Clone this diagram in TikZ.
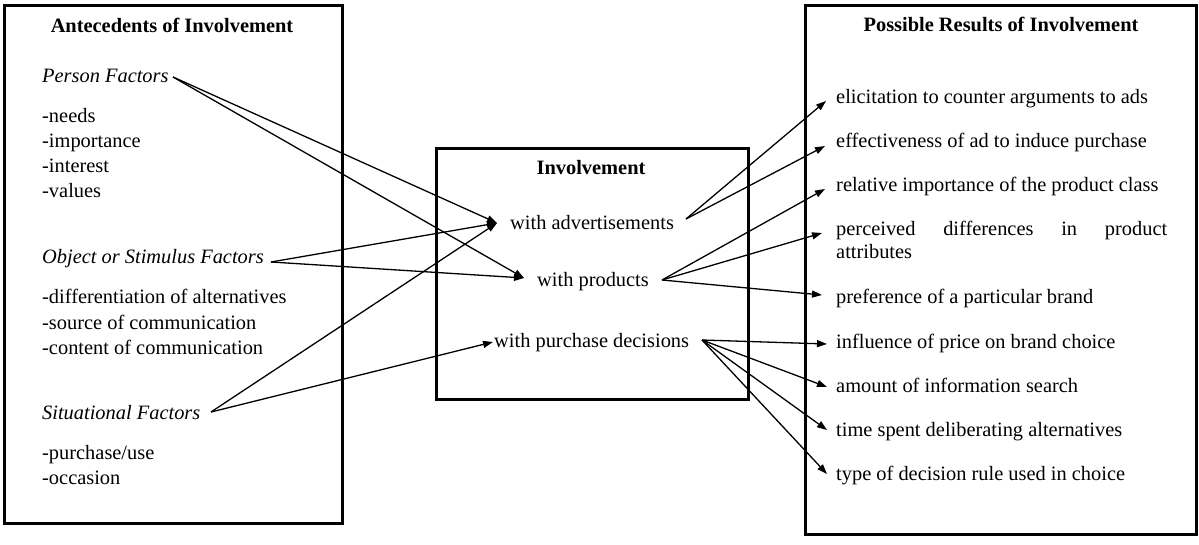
\documentclass[tikz,border=0pt]{standalone}
\usepackage{fontspec}
\setmainfont{Liberation Serif}
\usetikzlibrary{arrows.meta}
\begin{document}
\begin{tikzpicture}[x=1pt,y=-1pt,
  txt/.style={anchor=base west,inner sep=0pt,font=\fontsize{20.4}{24}\selectfont},
  itl/.style={txt,font=\fontsize{20.4}{24}\selectfont\itshape},
  ttl/.style={anchor=base,inner sep=0pt,font=\fontsize{20.4}{24}\selectfont\bfseries},
  box/.style={draw,line width=3.2pt,anchor=north west,inner sep=0pt},
  conn/.style={line width=1.3pt,-{Triangle[length=10pt,width=7pt]}},
]
\useasboundingbox (0,0) rectangle (1199,545);
% boxes
\node[box,minimum width=338pt,minimum height=518pt] (lbox) at (3,4) {};
\node[box,minimum width=312pt,minimum height=251pt] (mbox) at (435,147) {};
\node[box,minimum width=391pt,minimum height=529pt] (rbox) at (804,4) {};
% left texts
\node[ttl] (ltitle) at (172,33) {Antecedents of Involvement};
\node[itl] (pf) at (42,83) {Person Factors};
\node[txt] (l1) at (42,123) {-needs};
\node[txt] (l2) at (42,148) {-importance};
\node[txt] (l3) at (42,173) {-interest};
\node[txt] (l4) at (42,198) {-values};
\node[itl] (of) at (42,264) {Object or Stimulus Factors};
\node[txt] (l5) at (42,304) {-differentiation of alternatives};
\node[txt] (l6) at (42,329) {-source of communication};
\node[txt] (l7) at (42,354) {-content of communication};
\node[itl] (sf) at (42,419) {Situational Factors};
\node[txt] (l8) at (42,459) {-purchase/use};
\node[txt] (l9) at (42,484) {-occasion};
% middle texts
\node[ttl] (mtitle) at (591,175) {Involvement};
\node[txt] (ads) at (510,230) {with advertisements};
\node[txt] (prod) at (537,287) {with products};
\node[txt] (dec) at (494,347) {with purchase decisions};
% right texts
\node[ttl] (rtitle) at (1001,32) {Possible Results of Involvement};
\node[txt] (r1) at (836,104) {elicitation to counter arguments to ads};
\node[txt] (r2) at (836,148) {effectiveness of ad to induce purchase};
\node[txt] (r3) at (836,192) {relative importance of the product class};
\node[txt] (r4) at (836,236) {\makebox[331pt][s]{perceived differences in product}};
\node[txt] (r4b) at (836,259) {attributes};
\node[txt] (r5) at (836,304) {preference of a particular brand};
\node[txt] (r6) at (836,348) {influence of price on brand choice};
\node[txt] (r7) at (836,392) {amount of information search};
\node[txt] (r8) at (836,436) {time spent deliberating alternatives};
\node[txt] (r9) at (836,480) {type of decision rule used in choice};
% connector end points
\coordinate (pfo) at (173,77);
\coordinate (ofo) at (271,262);
\coordinate (sfo) at (211,412);
\coordinate (adsi) at (497,223);
\coordinate (prodi) at (524,278);
\coordinate (deci) at (493,342);
\coordinate (adso) at (686,219);
\coordinate (prodo) at (662,280);
\coordinate (deco) at (702,340);
\coordinate (r1i) at (826,101);
\coordinate (r2i) at (825,146);
\coordinate (r3i) at (825,189);
\coordinate (r4i) at (822,233);
\coordinate (r5i) at (822,295);
\coordinate (r6i) at (827,344);
\coordinate (r7i) at (827,387);
\coordinate (r8i) at (827,430);
\coordinate (r9i) at (827,474);
% left connectors
\draw[conn] (pfo) -- (adsi);
\draw[conn] (pfo) -- (prodi);
\draw[conn] (ofo) -- (adsi);
\draw[conn] (ofo) -- (prodi);
\draw[conn] (sfo) -- (adsi);
\draw[conn] (sfo) -- (deci);
% right connectors
\draw[conn] (adso) -- (r1i);
\draw[conn] (adso) -- (r2i);
\draw[conn] (prodo) -- (r3i);
\draw[conn] (prodo) -- (r4i);
\draw[conn] (prodo) -- (r5i);
\draw[conn] (deco) -- (r6i);
\draw[conn] (deco) -- (r7i);
\draw[conn] (deco) -- (r8i);
\draw[conn] (deco) -- (r9i);
\end{tikzpicture}
\end{document}
